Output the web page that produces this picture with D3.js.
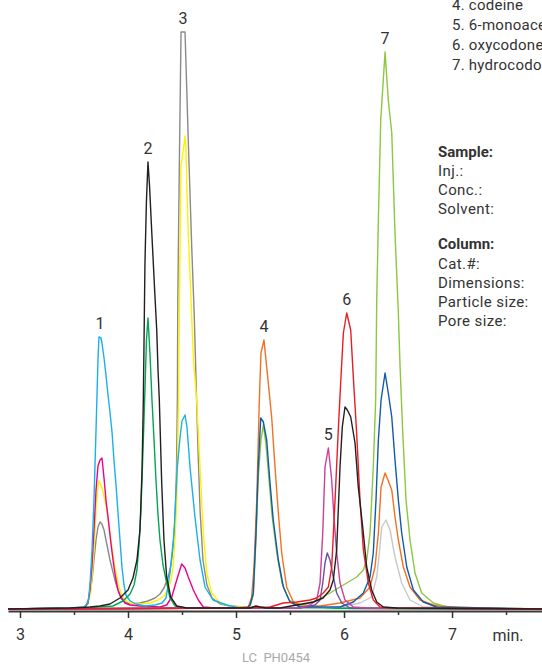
<!DOCTYPE html>
<html>
<head>
<meta charset="utf-8">
<script src="https://cdn.jsdelivr.net/npm/d3@7"></script>
<style>
  body { margin: 0; background: #fff; }
  svg { display: block; font-family: Roboto, "DejaVu Sans", sans-serif; }
</style>
</head>
<body>
<svg id="chart" width="542" height="664"></svg>
<script>
const WIDTH = 542, HEIGHT = 664;

// text blocks
const compounds = ["4. codeine", "5. 6-monoacetylmorphine", "6. oxycodone", "7. hydrocodone"];
const sampleLines = ["Inj.:", "Conc.:", "Solvent:"];
const columnLines = ["Cat.#:", "Dimensions:", "Particle size:", "Pore size:"];

// axis
const majorTicks = [3, 4, 5, 6, 7];
const minorTicks = [3.5, 4.5, 5.5, 6.5, 7.5];

// peak numbers and retention times (min)
const peakLabels = ["1", "2", "3", "4", "5", "6", "7"];
const peakTimes = [3.741, 4.185, 4.509, 5.259, 5.855, 6.025, 6.380];

// traces: [time (min), response]
const grayTrace = [[2.889,0],[3.593,1],[3.611,3],[3.639,11],[3.667,29],[3.685,49],[3.704,69],[3.722,82],[3.741,87],[3.759,85],[3.778,79],[3.796,69],[3.815,59],[3.833,49],[3.861,37],[3.889,25],[3.926,14],[3.972,7],[4.019,5],[4.111,6],[4.185,8],[4.250,11],[4.296,15],[4.333,21],[4.370,31],[4.398,44],[4.417,61],[4.435,89],[4.449,139],[4.457,209],[4.461,309],[4.475,442],[4.491,577],[4.528,577],[4.558,469],[4.590,362],[4.614,292],[4.630,229],[4.648,159],[4.667,99],[4.694,49],[4.731,24],[4.778,11],[4.852,5],[4.944,3],[5.222,1],[7.833,0]];
const yellowTrace = [[2.889,0],[3.593,1],[3.630,5],[3.657,19],[3.685,59],[3.704,99],[3.722,124],[3.731,128],[3.750,124],[3.769,117],[3.796,104],[3.824,84],[3.852,61],[3.880,41],[3.907,26],[3.935,16],[3.972,9],[4.019,6],[4.111,5],[4.204,6],[4.278,9],[4.333,13],[4.370,19],[4.398,29],[4.417,42],[4.435,69],[4.451,109],[4.460,159],[4.468,209],[4.475,292],[4.483,369],[4.491,444],[4.500,449],[4.514,461],[4.528,473],[4.537,459],[4.546,419],[4.558,376],[4.574,334],[4.590,292],[4.606,249],[4.636,209],[4.667,142],[4.697,76],[4.729,36],[4.775,16],[4.852,6],[4.944,3],[5.130,1],[7.833,0]];
const magentaTrace = [[2.889,0],[3.593,1],[3.630,6],[3.648,19],[3.667,44],[3.685,79],[3.704,119],[3.722,143],[3.741,149],[3.759,151],[3.778,131],[3.796,109],[3.815,92],[3.833,74],[3.852,57],[3.870,42],[3.889,29],[3.907,19],[3.935,11],[3.972,6],[4.019,4],[4.111,3],[4.296,2],[4.358,4],[4.405,12],[4.451,29],[4.497,45],[4.528,41],[4.558,32],[4.605,19],[4.651,9],[4.697,2],[4.806,1],[7.833,0]];
const cyanTrace = [[2.889,0],[3.463,1],[3.593,2],[3.630,6],[3.648,24],[3.667,59],[3.685,109],[3.704,179],[3.722,249],[3.731,272],[3.750,271],[3.759,266],[3.778,251],[3.796,234],[3.815,214],[3.833,197],[3.852,177],[3.870,149],[3.889,124],[3.907,97],[3.926,69],[3.944,42],[3.963,24],[3.981,14],[4.019,8],[4.074,5],[4.157,3],[4.250,4],[4.315,6],[4.352,11],[4.389,36],[4.426,76],[4.457,142],[4.481,171],[4.500,188],[4.528,194],[4.546,182],[4.574,142],[4.620,92],[4.667,49],[4.713,22],[4.787,9],[4.914,4],[5.037,1],[7.833,0]];
const greenTrace = [[2.889,0],[3.593,1],[3.861,3],[3.954,8],[4.019,15],[4.056,24],[4.083,39],[4.102,64],[4.120,99],[4.139,159],[4.157,219],[4.171,269],[4.185,291],[4.204,254],[4.222,209],[4.241,169],[4.259,129],[4.278,94],[4.296,69],[4.324,44],[4.358,26],[4.389,11],[4.435,3],[4.528,1],[7.833,0]];
const orangeTrace = [[2.889,0],[5.037,1],[5.114,2],[5.145,12],[5.167,42],[5.192,109],[5.216,209],[5.231,256],[5.259,269],[5.284,242],[5.330,192],[5.361,142],[5.392,96],[5.423,56],[5.469,22],[5.531,7],[5.623,3],[5.778,3],[5.963,6],[6.148,11],[6.241,22],[6.287,42],[6.318,76],[6.343,122],[6.380,136],[6.407,129],[6.442,119],[6.472,92],[6.503,69],[6.549,42],[6.611,22],[6.704,9],[6.827,4],[7.074,1],[7.833,0]];
const lightGreenTrace = [[2.889,0],[5.037,1],[5.099,1],[5.130,3],[5.160,14],[5.185,69],[5.206,131],[5.231,169],[5.253,184],[5.278,164],[5.306,129],[5.333,94],[5.380,54],[5.426,26],[5.491,9],[5.583,3],[5.716,7],[5.870,16],[6.025,26],[6.117,32],[6.179,39],[6.210,49],[6.241,76],[6.271,142],[6.293,209],[6.303,309],[6.318,389],[6.340,489],[6.380,557],[6.410,509],[6.442,476],[6.472,376],[6.503,296],[6.519,242],[6.544,176],[6.574,109],[6.611,69],[6.657,36],[6.719,16],[6.827,6],[6.951,2],[7.833,0]];
const blueTrace = [[2.889,0],[5.037,1],[5.099,1],[5.130,4],[5.160,16],[5.185,76],[5.206,142],[5.229,191],[5.253,187],[5.284,169],[5.315,126],[5.345,89],[5.392,49],[5.438,22],[5.500,7],[5.593,2],[5.778,2],[5.963,2],[6.086,7],[6.179,16],[6.241,32],[6.271,56],[6.296,109],[6.318,169],[6.343,209],[6.380,236],[6.410,216],[6.442,192],[6.472,149],[6.503,109],[6.534,76],[6.581,42],[6.642,19],[6.734,7],[6.858,2],[7.833,0]];
const lightGrayTrace = [[2.889,0],[5.800,1],[5.963,2],[6.148,6],[6.256,12],[6.303,32],[6.327,56],[6.349,82],[6.389,89],[6.426,79],[6.472,52],[6.534,26],[6.611,9],[6.734,2],[7.833,0]];
const purpleTrace = [[2.889,0],[5.593,1],[5.731,4],[5.778,9],[5.803,26],[5.824,46],[5.845,56],[5.870,49],[5.901,32],[5.932,16],[5.979,6],[6.056,1],[7.833,0]];
const pinkTrace = [[2.889,0],[5.593,1],[5.685,4],[5.747,9],[5.778,26],[5.803,76],[5.824,142],[5.855,161],[5.886,129],[5.907,92],[5.932,56],[5.963,26],[6.009,9],[6.086,2],[6.200,1],[7.833,0]];
const redTrace = [[2.889,0],[5.037,1],[5.315,2],[5.438,6],[5.562,7],[5.685,9],[5.747,11],[5.808,16],[5.855,22],[5.886,42],[5.917,109],[5.947,179],[5.969,226],[5.994,276],[6.025,296],[6.062,279],[6.086,232],[6.117,176],[6.148,109],[6.179,59],[6.225,26],[6.271,9],[6.333,2],[6.426,1],[7.833,0]];
const blackTrace = [[2.889,0],[3.463,1],[3.648,2],[3.741,3],[3.833,5],[3.926,11],[4.000,19],[4.046,31],[4.083,49],[4.111,79],[4.130,139],[4.142,209],[4.151,291],[4.157,346],[4.171,409],[4.185,447],[4.199,424],[4.219,379],[4.250,312],[4.266,279],[4.278,239],[4.290,209],[4.312,126],[4.333,69],[4.358,32],[4.395,12],[4.451,3],[4.544,1],[5.130,1],[5.185,3],[5.222,2],[5.278,1],[5.407,1],[5.562,4],[5.716,7],[5.806,11],[5.870,19],[5.901,29],[5.932,59],[5.963,142],[5.984,182],[6.009,202],[6.031,199],[6.062,192],[6.102,166],[6.132,122],[6.173,82],[6.210,42],[6.256,19],[6.303,7],[6.364,2],[6.488,1],[7.833,0]];

const traces = [
  {data: grayTrace, color: "#8a8a8a"},
  {data: yellowTrace, color: "#fff200"},
  {data: magentaTrace, color: "#ec008c"},
  {data: cyanTrace, color: "#1ab0ec"},
  {data: greenTrace, color: "#00a651"},
  {data: lightGrayTrace, color: "#c8c8c8"},
  {data: orangeTrace, color: "#f37021"},
  {data: lightGreenTrace, color: "#8dc63f"},
  {data: blueTrace, color: "#0f5ba8"},
  {data: purpleTrace, color: "#6a4fa0"},
  {data: pinkTrace, color: "#cc3f9b"},
  {data: redTrace, color: "#ed1c24"},
  {data: blackTrace, color: "#231f20"}
];

const svg = d3.select("#chart");

const x = d3.scaleLinear().domain([2.889, 7.833]).range([8, 542]);
const y = d3.scaleLinear().domain([0, 580]).range([609, 29]);

// axis line + ticks
const axisY = 611;
const minorAxis = d3.axisBottom(x).tickValues(minorTicks).tickSize(4).tickSizeOuter(0).tickFormat("");
const majorAxis = d3.axisBottom(x).tickValues(majorTicks).tickSize(7).tickSizeOuter(0).tickPadding(11).tickFormat(d3.format("d"));

svg.append("g").attr("transform", `translate(0,${axisY})`).call(minorAxis)
  .call(g => g.select(".domain").remove())
  .selectAll("line").attr("stroke", "#333").attr("stroke-width", 1.5);
const gx = svg.append("g").attr("transform", `translate(0,${axisY})`).call(majorAxis);
gx.select(".domain").attr("stroke", "#3a3a3a").attr("stroke-width", 2);
gx.selectAll("line").attr("stroke", "#333").attr("stroke-width", 1.5);
gx.selectAll("text").attr("fill", "#333").style("font-size", "16px").style("font-family", "Roboto, sans-serif");

svg.append("text").attr("x", 508).attr("y", 641).attr("text-anchor", "middle")
  .attr("fill", "#333").style("font-size", "16px").text("min.");

// traces
const line = d3.line().x(d => x(d[0])).y(d => y(d[1]));
svg.append("g").selectAll("path").data(traces).join("path")
  .attr("d", d => line(d.data))
  .attr("fill", "none")
  .attr("stroke", d => d.color)
  .attr("stroke-width", 1.4)
  .attr("stroke-linejoin", "round");

// peak numbers above highest trace at each retention time
const topAt = t => d3.max(traces, tr => d3.max(tr.data.filter(d => Math.abs(d[0] - t) < 0.02), d => d[1]) || 0);
svg.append("g").selectAll("text").data(peakLabels).join("text")
  .attr("x", (d, i) => x(peakTimes[i]))
  .attr("y", (d, i) => y(topAt(peakTimes[i])) - 8)
  .attr("text-anchor", "middle")
  .attr("fill", "#333")
  .style("font-size", "16px")
  .text(d => d);

// compound list (top right, runs off the edge like the original)
svg.append("g").selectAll("text").data(compounds).join("text")
  .attr("x", 452).attr("y", (d, i) => 10 + i * 20)
  .attr("fill", "#333").style("font-size", "15px").style("letter-spacing", "0.25px")
  .text(d => d);

// sample / column blocks
const info = svg.append("g").attr("fill", "#333").style("font-size", "15px").style("letter-spacing", "0.4px");
info.append("text").attr("x", 438).attr("y", 157).style("font-weight", "bold").style("letter-spacing", "0px").text("Sample:");
info.selectAll(".s").data(sampleLines).join("text").attr("class", "s")
  .attr("x", 438).attr("y", (d, i) => 176 + i * 19).text(d => d);
info.append("text").attr("x", 438).attr("y", 249).style("font-weight", "bold").style("letter-spacing", "0px").text("Column:");
info.selectAll(".c").data(columnLines).join("text").attr("class", "c")
  .attr("x", 438).attr("y", (d, i) => 269 + i * 19).text(d => d);

// figure code
svg.append("text").attr("x", 276).attr("y", 662).attr("text-anchor", "middle")
  .attr("fill", "#aaa").style("font-size", "13px").style("white-space", "pre")
  .text("LC  PH0454");
</script>
</body>
</html>
